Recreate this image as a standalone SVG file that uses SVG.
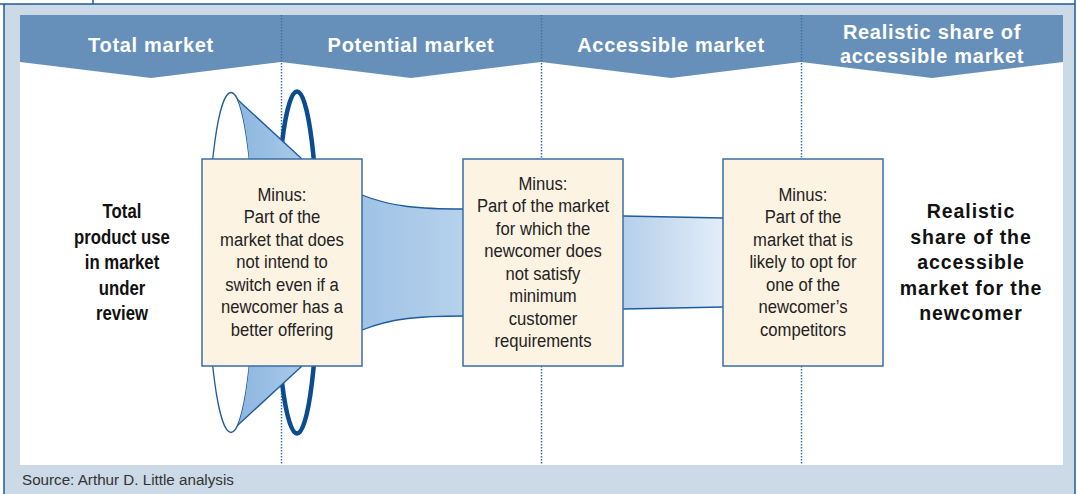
<svg xmlns="http://www.w3.org/2000/svg" width="1077" height="494" viewBox="0 0 1077 494">
  <defs>
    <linearGradient id="coneFill" x1="0" y1="0" x2="1" y2="0">
      <stop offset="0" stop-color="#8DB6DF"/>
      <stop offset="1" stop-color="#A9C9E9"/>
    </linearGradient>
    <linearGradient id="flowFill1" x1="0" y1="0" x2="1" y2="0">
      <stop offset="0" stop-color="#9FC3E6"/>
      <stop offset="1" stop-color="#B6D1EB"/>
    </linearGradient>
    <linearGradient id="flowFill2" x1="0" y1="0" x2="1" y2="0">
      <stop offset="0" stop-color="#B5CFEA"/>
      <stop offset="1" stop-color="#E3EDF8"/>
    </linearGradient>
    <style>
      .frame { stroke: #1F5A9A; stroke-width: 1.5; fill: none; }
      .divider { stroke: #3C70A8; stroke-width: 1.5; stroke-dasharray: 1.5 1.5; fill: none; }
      .head { font-family: "Liberation Sans", Arial, sans-serif; font-weight: bold; font-size: 20px; fill: #FFFFFF; text-anchor: middle; letter-spacing: 0.7px; }
      .side { font-family: "Liberation Sans", Arial, sans-serif; font-weight: bold; font-size: 19.5px; fill: #111111; text-anchor: middle; }
      .wide { letter-spacing: 0.9px; }
      .box rect { fill: #FDF3E2; stroke: #3A6EA5; stroke-width: 1.5; }
      .box text { font-family: "Liberation Sans", Arial, sans-serif; font-size: 18.5px; fill: #222222; text-anchor: middle; }
      .edge { stroke: #1F5A9A; stroke-width: 1.3; }
      .source { font-family: "Liberation Sans", Arial, sans-serif; font-size: 15.2px; fill: #333333; }
    </style>
  </defs>

  <!-- page background and outer frame -->
  <rect x="0" y="0" width="1077" height="494" fill="#FFFFFF"/>
  <rect x="4" y="4" width="1071" height="490" fill="#CCD9E6"/>
  <line class="frame" x1="0" y1="4" x2="1075" y2="4"/>
  <line class="frame" x1="4" y1="4" x2="4" y2="494"/>
  <line class="frame" x1="1075" y1="0" x2="1075" y2="494"/>
  <line class="frame" x1="93" y1="0" x2="93" y2="4"/>

  <!-- white panel -->
  <rect x="20" y="15" width="1043" height="450" fill="#FFFFFF"/>

  <!-- header band with chevrons -->
  <g id="header">
    <path d="M20,15 H1063 V62 L932,78 L801,62 L671,78 L541,62 L411,78 L281,62 L151,78 L20,62 Z" fill="#6690B9"/>
    <text class="head" x="151" y="52">Total market</text>
    <text class="head" x="411" y="52">Potential market</text>
    <text class="head" x="671" y="52">Accessible market</text>
    <text class="head" x="932" y="39">Realistic share of</text>
    <text class="head" x="932" y="63">accessible market</text>
  </g>

  <!-- column dividers -->
  <g id="dividers">
    <line class="divider" x1="281.5" y1="15" x2="281.5" y2="465"/>
    <line class="divider" x1="541.5" y1="15" x2="541.5" y2="465"/>
    <line class="divider" x1="801.5" y1="15" x2="801.5" y2="465"/>
  </g>

  <!-- connectors: funnel cone and flows between boxes -->
  <g id="connectors">
    <ellipse cx="297" cy="262.5" rx="21" ry="171" fill="none" stroke="#0B4C91" stroke-width="4.5"/>
    <ellipse cx="231" cy="262.5" rx="23" ry="170" fill="none" stroke="#1F5A9A" stroke-width="1.3"/>
    <path d="M238,100 L302,159 L249.3,159 A23,170 0 0 0 238,100 Z" fill="url(#coneFill)"/>
    <line class="edge" x1="238" y1="100" x2="302" y2="159"/>
    <path d="M238,425 L302,366 L249.3,366 A23,170 0 0 1 238,425 Z" fill="url(#coneFill)"/>
    <line class="edge" x1="238" y1="425" x2="302" y2="366"/>

    <path d="M362,195 C392,207 420,209 463,209 L463,316 C420,316 392,318 362,330 Z" fill="url(#flowFill1)"/>
    <path class="edge" d="M362,195 C392,207 420,209 463,209" fill="none"/>
    <path class="edge" d="M463,316 C420,316 392,318 362,330" fill="none"/>

    <path d="M623,216 L723,218 L723,307 L623,309 Z" fill="url(#flowFill2)"/>
    <line class="edge" x1="623" y1="216" x2="723" y2="218"/>
    <line class="edge" x1="623" y1="309" x2="723" y2="307"/>
  </g>

  <!-- start and end labels -->
  <g id="total-use" transform="translate(122,0) scale(0.86,1)">
    <text class="side" x="0" y="218">Total</text>
    <text class="side" x="0" y="244">product use</text>
    <text class="side" x="0" y="269">in market</text>
    <text class="side" x="0" y="295">under</text>
    <text class="side" x="0" y="320">review</text>
  </g>
  <g id="realistic-share">
    <text class="side wide" x="971" y="218">Realistic</text>
    <text class="side wide" x="971" y="244">share of the</text>
    <text class="side wide" x="971" y="269">accessible</text>
    <text class="side wide" x="971" y="295">market for the</text>
    <text class="side wide" x="971" y="320">newcomer</text>
  </g>

  <!-- filter boxes -->
  <g id="box-no-switch" class="box">
    <rect x="202" y="159" width="160" height="207"/>
    <g transform="translate(282,0) scale(0.9,1)">
      <text x="0" y="201">Minus:</text>
      <text x="0" y="223.5">Part of the</text>
      <text x="0" y="246">market that does</text>
      <text x="0" y="268.5">not intend to</text>
      <text x="0" y="291">switch even if a</text>
      <text x="0" y="313.5">newcomer has a</text>
      <text x="0" y="336">better offering</text>
    </g>
  </g>
  <g id="box-requirements" class="box">
    <rect x="463" y="159" width="160" height="207"/>
    <g transform="translate(543,0) scale(0.9,1)">
      <text x="0" y="190">Minus:</text>
      <text x="0" y="212.5">Part of the market</text>
      <text x="0" y="235">for which the</text>
      <text x="0" y="257.5">newcomer does</text>
      <text x="0" y="280">not satisfy</text>
      <text x="0" y="302.5">minimum</text>
      <text x="0" y="325">customer</text>
      <text x="0" y="347.5">requirements</text>
    </g>
  </g>
  <g id="box-competitors" class="box">
    <rect x="723" y="159" width="160" height="207"/>
    <g transform="translate(803,0) scale(0.9,1)">
      <text x="0" y="201">Minus:</text>
      <text x="0" y="223.5">Part of the</text>
      <text x="0" y="246">market that is</text>
      <text x="0" y="268.5">likely to opt for</text>
      <text x="0" y="291">one of the</text>
      <text x="0" y="313.5">newcomer’s</text>
      <text x="0" y="336">competitors</text>
    </g>
  </g>

  <text class="source" x="22" y="485">Source: Arthur D. Little analysis</text>
</svg>
